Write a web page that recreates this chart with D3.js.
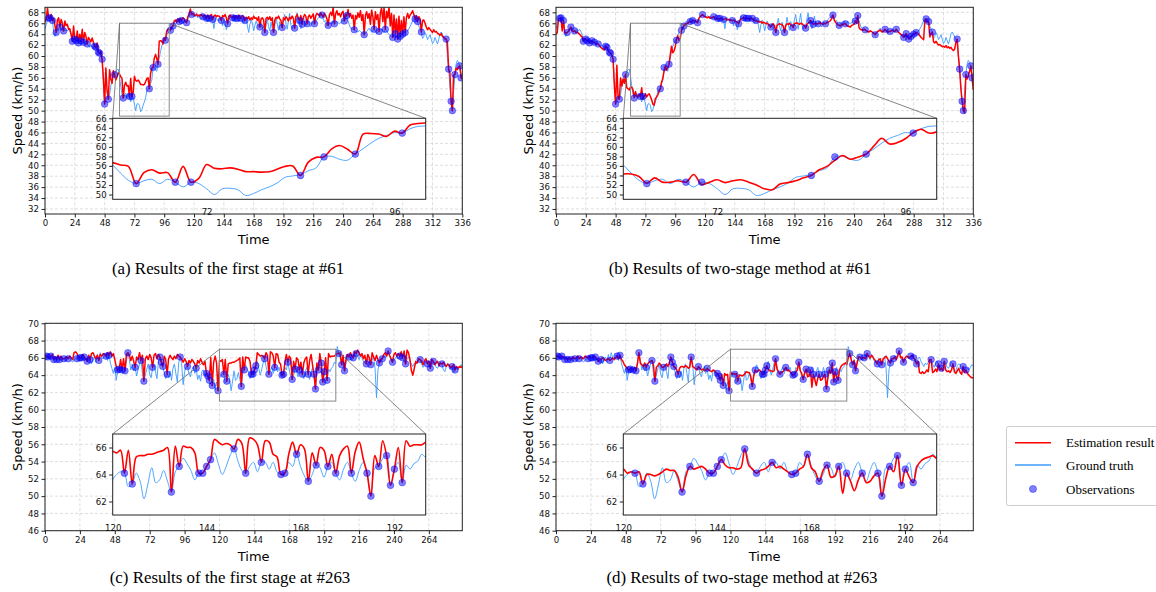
<!DOCTYPE html>
<html><head><meta charset="utf-8">
<script src="https://cdn.jsdelivr.net/npm/d3@7"></script>
<style>body{margin:0;background:#fff}</style>
</head><body>
<script>
// ---------- DATA (#61) ----------
const truth61 = [
65.0,65.8,66.6,66.9,67.0,66.7,66.5,64.5,63.6,64.3,
64.7,65.1,65.3,64.8,64.7,64.6,64.8,64.7,64.6,64.9,
64.5,64.0,62.7,63.2,63.1,62.8,63.0,62.4,62.6,62.8,
62.5,62.5,62.1,62.4,62.2,62.0,61.6,62.0,61.8,61.5,
61.8,61.6,60.9,60.7,60.5,60.0,59.4,55.0,51.2,52.0,
52.4,52.1,53.0,54.5,55.8,56.4,56.6,57.2,57.5,57.6,
56.2,54.5,53.0,52.3,52.9,53.2,52.3,53.2,52.6,51.6,
52.6,52.3,51.2,50.0,51.2,51.3,51.0,49.8,50.2,51.0,
51.6,52.4,53.6,53.9,54.2,55.0,55.6,57.9,58.0,57.4,
57.2,58.5,59.6,60.8,61.8,62.4,63.0,62.9,63.8,64.3,
64.4,64.7,65.1,65.5,66.0,66.4,66.1,66.5,66.3,66.5,
66.4,66.0,66.5,66.2,66.1,66.8,67.2,67.5,67.6,67.4,
67.3,67.2,67.4,67.0,67.3,67.1,66.8,67.2,67.0,66.6,
66.9,66.3,66.9,67.1,66.5,66.7,65.0,66.8,67.0,66.5,
66.5,66.8,66.5,65.5,66.7,66.2,64.8,65.9,66.6,67.3,
66.9,67.0,66.4,66.9,67.1,66.9,66.3,67.2,66.9,66.6,
66.0,66.5,66.8,65.5,64.3,65.8,66.6,66.0,64.6,65.6,
66.4,65.8,65.3,65.3,66.0,64.9,65.5,64.3,65.8,66.9,
65.4,64.6,66.2,65.0,64.3,65.5,67.1,65.9,64.7,66.3,
65.5,65.2,66.6,67.6,65.9,64.9,66.4,67.8,65.7,64.9,
65.7,65.1,66.8,67.9,66.0,66.5,65.0,65.8,67.3,66.2,
65.6,65.9,66.4,65.8,65.3,66.2,66.0,65.9,66.3,66.7,
66.9,67.2,67.4,67.5,66.8,66.2,66.5,65.6,65.6,66.0,
66.2,65.8,66.4,65.9,66.1,66.3,66.1,65.9,66.2,66.4,
66.5,66.4,66.8,67.4,66.5,65.7,65.1,64.9,65.0,64.8,
64.6,64.5,64.4,64.7,64.5,64.3,64.1,63.9,64.2,64.5,
64.8,65.1,64.6,64.4,64.6,64.9,64.5,64.1,64.4,64.5,
64.7,65.0,64.5,64.3,64.9,64.6,64.2,64.0,63.7,63.5,
63.4,63.9,64.1,63.5,63.1,63.3,63.6,64.0,64.0,64.2,
64.3,64.4,64.6,65.0,65.4,65.9,66.5,66.9,66.8,66.5,
66.3,65.5,64.9,64.4,63.2,63.6,64.3,63.8,63.0,63.4,
63.9,63.1,62.3,62.6,63.4,62.8,62.2,63.0,64.1,64.4,
64.0,63.5,63.0,63.1,60.0,57.6,54.5,51.7,50.0,53.5,
56.6,58.5,59.2,58.8,58.2,56.0,57.0];

const estFirst61 = [
66.2,66.8,68.8,66.9,67.0,67.6,66.5,66.9,65.6,64.3,
66.6,67.0,65.3,66.7,66.0,64.6,66.4,65.6,65.8,64.9,
65.0,64.0,62.7,65.5,63.1,62.8,64.6,62.4,64.0,62.8,
64.9,62.5,64.3,63.6,62.2,63.4,63.0,62.6,63.3,62.5,
61.8,61.6,62.4,60.7,60.5,60.8,59.4,56.0,51.2,57.8,
53.6,52.1,57.5,55.8,55.0,57.3,56.6,55.6,56.2,56.9,
56.7,56.2,55.9,52.3,54.6,55.2,54.5,54.6,52.6,55.9,
52.6,53.4,56.3,55.5,55.4,55.6,55.3,54.8,54.8,54.7,
54.8,55.3,55.9,56.0,54.0,56.8,57.8,57.9,59.6,60.3,
59.5,58.5,62.7,62.8,62.7,62.2,63.3,62.9,64.6,64.9,
65.0,64.7,65.3,65.5,66.4,66.6,66.2,66.8,66.3,66.9,
66.5,67.0,66.8,66.4,66.1,67.2,67.6,68.6,67.6,67.8,
67.5,67.4,67.7,67.3,67.5,67.4,67.6,67.2,67.5,67.3,
66.9,67.5,66.9,67.4,67.6,66.7,67.3,67.5,67.2,67.4,
67.3,67.1,66.5,67.4,67.2,67.6,67.0,65.9,67.3,67.5,
67.2,67.0,67.4,66.9,67.3,66.9,67.5,67.1,66.9,67.4,
67.2,66.5,67.1,66.8,67.2,66.6,67.0,66.7,67.3,66.9,
67.0,66.5,67.2,65.3,66.8,67.0,66.6,64.3,66.9,67.1,
66.7,67.2,66.5,67.0,64.3,66.6,67.1,66.9,67.3,66.8,
66.5,65.2,67.0,66.6,67.2,66.9,66.4,67.1,66.8,67.3,
66.9,65.1,67.2,67.6,66.9,66.5,67.4,65.8,67.0,67.6,
67.3,65.9,67.2,67.5,66.9,67.3,67.7,65.9,67.4,67.8,
67.6,67.3,67.9,67.5,67.2,67.8,67.4,66.8,65.6,67.5,
68.0,67.4,68.9,65.9,67.7,68.3,67.5,67.8,67.2,67.9,
68.2,66.4,67.6,67.4,68.5,67.2,67.8,66.9,67.5,64.8,
67.4,66.8,67.9,67.1,68.3,66.5,67.6,63.9,67.4,68.1,
66.9,67.8,65.8,68.4,67.2,64.9,68.1,66.7,67.6,64.5,
67.9,68.8,66.3,68.9,64.9,68.2,67.0,68.9,65.5,67.8,
63.4,67.5,64.1,66.8,63.1,67.3,63.6,66.5,64.0,67.2,
64.3,67.0,67.8,66.9,67.5,67.8,68.3,67.6,66.8,67.4,
66.3,67.2,66.8,64.4,66.5,66.6,66.0,65.3,64.8,65.2,
64.9,64.6,64.3,64.8,64.4,64.5,64.2,64.0,63.8,64.1,
63.6,63.4,63.2,63.1,62.5,57.6,57.0,51.7,50.0,56.5,
56.6,57.8,57.5,58.0,58.2,56.0,55.8];

const estTwo61 = [
64.0,64.3,66.8,66.9,67.0,64.6,66.5,64.3,64.2,64.3,
64.5,64.9,65.3,64.6,64.5,64.6,64.3,64.4,64.2,64.0,
63.7,63.5,62.7,63.2,63.1,62.8,62.9,62.4,62.7,62.8,
62.6,62.5,62.3,62.2,62.2,61.9,61.6,61.4,61.2,61.1,
61.8,61.6,61.0,60.7,60.5,60.2,59.4,54.5,51.2,58.3,
52.2,52.1,56.0,54.5,55.8,55.0,56.6,54.2,54.0,53.8,
54.3,54.3,53.8,52.4,53.5,52.6,52.6,52.9,52.6,54.2,
52.1,52.6,53.1,52.5,52.9,53.1,52.6,52.0,51.2,51.0,
52.2,52.5,52.9,53.5,54.0,55.2,55.9,57.2,58.2,57.4,
57.9,58.5,60.2,61.8,60.6,60.9,61.7,63.0,63.7,62.9,
63.2,64.7,65.2,65.5,65.8,66.0,65.9,66.2,66.3,66.2,
66.5,66.6,66.4,66.3,66.1,66.9,67.2,67.4,67.6,67.3,
67.2,67.1,67.0,67.2,66.9,67.0,67.1,67.2,66.9,66.8,
66.9,66.8,66.9,66.9,66.7,66.7,66.8,66.9,66.6,66.7,
66.6,66.5,66.5,66.6,66.4,66.3,66.2,65.9,66.5,66.8,
66.9,67.0,66.9,66.9,66.8,66.9,66.7,66.9,66.9,66.6,
66.5,66.5,66.3,66.4,66.2,66.3,66.0,66.2,66.1,65.9,
66.0,65.8,65.6,65.3,65.7,65.9,65.5,64.3,65.6,65.8,
65.9,65.8,65.7,65.5,64.3,65.6,65.9,65.8,66.0,65.7,
65.6,65.2,65.9,66.0,66.1,65.9,65.8,66.0,65.9,65.7,
65.6,65.1,65.8,66.0,66.2,66.5,66.2,65.8,65.9,66.0,
65.9,65.9,66.0,66.1,65.9,65.8,66.0,65.9,66.1,66.2,
66.3,66.5,66.9,67.5,66.6,66.2,65.9,65.7,65.6,65.5,
65.8,65.7,65.9,65.9,65.6,65.5,65.4,65.3,65.6,65.7,
65.8,66.4,66.0,67.4,65.2,64.9,64.8,64.7,64.9,64.8,
64.6,64.5,64.4,64.6,64.5,64.3,64.2,63.9,64.3,64.5,
64.6,64.8,64.5,64.4,64.6,64.9,64.6,64.4,64.5,64.5,
64.6,64.7,64.5,64.6,64.9,64.5,64.3,64.1,63.9,63.8,
63.4,63.7,64.1,63.6,63.1,63.4,63.6,63.8,64.0,64.1,
64.3,64.2,64.0,63.7,63.4,63.2,63.0,66.5,66.8,66.2,
66.3,63.5,64.1,64.4,62.6,62.4,62.7,62.3,62.0,62.1,
61.9,61.7,61.8,61.6,61.9,61.5,61.7,61.4,61.6,61.2,
61.0,61.3,62.5,63.1,60.0,57.6,54.0,51.7,50.0,49.6,
56.6,55.8,56.4,57.2,58.2,56.0,53.8];

const obs61 = [
[3,66.9],[4,67.0],[6,66.5],[9,64.3],[12,65.3],[15,64.6],
[22,62.7],[24,63.1],[25,62.8],[27,62.4],[29,62.8],[31,62.5],[34,62.2],
[40,61.8],[41,61.6],[43,60.7],[44,60.5],[46,59.4],
[48,51.2],[51,52.1],[56,56.6],
[63,52.3],[68,52.6],[70,52.6],[84,54.0],[87,57.9],[91,58.5],[97,62.9],
[101,64.7],[103,65.5],[108,66.3],[110,66.5],[114,66.1],[118,67.6],
[127,67.2],[130,66.9],[132,66.9],[135,66.7],[142,66.5],[147,65.9],[151,67.0],[153,66.9],[155,66.9],[158,66.9],[161,66.5],
[173,65.3],[177,64.3],[184,64.3],[191,65.2],[201,65.1],[205,66.5],[207,65.8],[211,65.9],[217,65.9],[223,67.5],[228,65.6],[233,65.9],[241,66.4],[243,67.4],
[249,64.8],[257,63.9],[265,64.9],[269,64.5],[274,64.9],[280,63.4],[282,64.1],[284,63.1],[286,63.6],[288,64.0],[290,64.3],
[298,66.8],[300,66.3],[303,64.4],
[323,63.1],[325,57.6],[327,51.7],[328,50.0],[330,56.6],[334,58.2],[335,56.0]];

// ---------- DATA (#263) ----------
const truth263 = [
66.2,66.2,66.1,65.9,66.2,66.0,65.8,65.9,65.8,66.0,
65.8,65.7,66.0,65.9,65.6,65.9,65.9,66.0,65.7,65.5,
65.8,65.9,65.9,66.1,66.0,66.0,65.7,66.1,65.8,65.6,
65.7,65.8,65.3,65.9,66.1,65.5,66.4,65.7,66.6,66.0,
65.9,66.3,66.2,65.7,66.3,65.4,64.8,64.2,64.9,63.4,
64.6,64.7,64.9,64.6,64.3,64.5,65.6,66.6,65.8,64.6,
65.3,64.5,64.9,63.9,64.6,65.3,65.7,64.2,63.3,64.0,
64.7,65.3,64.1,63.7,64.9,65.2,64.4,63.6,65.6,66.1,
65.5,65.0,64.3,63.6,64.1,63.7,64.5,63.4,64.8,65.3,
64.2,63.2,65.5,66.1,65.3,62.9,64.4,64.9,65.0,64.2,
63.8,64.6,65.0,64.2,64.8,63.5,64.0,63.3,64.5,64.6,
63.9,64.2,63.9,63.4,62.9,62.8,63.5,62.3,63.2,62.2,
63.6,64.0,64.2,64.1,63.1,63.3,64.1,63.5,62.2,63.3,
64.5,63.4,63.6,64.3,63.5,62.7,64.2,64.6,65.2,64.8,
64.3,63.6,64.1,64.1,64.6,65.1,65.6,64.8,64.0,64.6,
65.4,65.9,65.0,64.3,64.1,64.6,64.9,64.2,64.9,64.9,
64.4,64.9,64.2,64.0,64.1,64.9,64.6,65.5,64.6,63.9,
63.5,64.0,64.7,64.5,63.8,64.6,64.9,64.1,63.6,64.4,
64.9,64.1,63.5,64.3,64.9,64.1,62.4,64.5,64.6,65.2,
65.4,63.2,64.4,64.9,63.4,64.7,64.4,64.8,65.0,65.5,
65.3,67.3,66.5,66.0,65.2,65.8,64.5,65.5,66.2,66.1,
66.0,65.7,66.0,66.4,66.5,66.2,65.8,66.4,66.0,65.6,
65.4,65.3,65.9,65.6,65.2,65.7,66.2,64.8,61.4,64.6,
65.4,66.0,65.9,66.3,66.0,66.5,66.8,66.2,65.8,65.5,
65.7,66.0,66.2,65.9,66.2,66.4,66.0,65.6,65.3,65.9,
66.1,65.6,65.3,65.0,65.4,65.2,65.5,65.8,65.8,65.3,
64.9,65.3,65.6,65.3,65.0,64.8,65.2,65.6,65.4,64.9,
64.8,65.2,65.5,65.3,64.6,64.4,65.1,65.3,65.2,64.7,
65.0,64.3,64.6,64.8,64.6,64.9,65.2,65.1];

const estFirst263 = [
66.3,66.1,66.2,66.0,66.2,66.4,65.8,66.1,65.8,66.3,
65.8,66.2,65.9,65.9,66.0,66.1,65.9,66.2,66.0,65.8,
66.6,66.7,66.5,66.1,66.0,66.0,66.4,66.1,65.9,65.6,
66.3,65.8,66.5,66.6,66.2,65.9,66.3,65.7,66.4,66.2,
66.5,66.4,66.2,66.6,66.3,66.7,66.2,66.5,65.8,65.0,
64.6,64.7,65.8,64.6,65.9,64.5,66.4,66.6,66.3,65.7,
66.2,65.6,64.9,66.1,65.8,66.6,65.7,66.3,63.3,65.9,
66.2,65.8,66.4,66.0,64.9,66.3,66.5,65.9,66.4,66.1,
65.5,65.0,66.2,65.8,64.1,65.9,66.3,66.0,65.8,66.2,
65.9,66.4,66.2,66.1,65.8,65.5,65.9,65.6,65.0,65.7,
65.4,65.8,65.6,65.3,64.8,65.7,65.4,65.9,65.5,65.2,
65.6,64.2,63.9,63.4,66.0,62.8,65.5,66.2,65.4,62.2,
65.7,65.6,65.8,64.1,65.8,63.3,65.3,65.4,65.4,65.5,
65.5,65.6,65.7,65.8,66.0,62.7,66.1,64.6,66.1,66.0,
66.0,65.6,64.1,64.1,64.6,65.1,66.6,66.4,66.2,66.3,
66.2,65.9,66.6,66.3,64.1,66.7,66.6,66.2,64.9,66.5,
66.4,65.5,65.3,64.0,64.1,65.5,66.4,65.5,66.2,65.9,
63.5,65.6,64.7,66.0,65.8,64.6,65.5,64.1,65.4,65.9,
66.1,64.1,65.7,66.4,65.2,64.1,62.4,65.4,64.6,66.5,
65.4,63.2,64.4,66.0,63.4,66.5,66.1,66.2,66.2,66.2,
66.4,66.5,66.5,66.6,65.2,66.3,64.5,65.8,66.4,66.1,
66.6,66.3,66.0,66.7,66.5,66.9,66.6,66.2,66.5,65.9,
66.3,65.3,66.4,66.0,65.2,66.6,66.1,65.7,66.3,65.8,
65.4,65.8,65.9,66.4,66.6,66.2,66.8,66.3,65.9,65.5,
66.4,66.6,66.2,66.5,66.2,66.7,66.0,66.8,65.3,66.9,
66.6,65.8,64.5,64.0,64.8,65.6,65.4,65.9,65.8,65.6,
65.2,65.7,65.9,65.3,65.6,64.8,65.8,65.6,65.2,65.4,
65.6,65.1,65.4,65.3,65.5,65.2,65.0,65.3,65.1,64.9,
65.0,65.2,64.6,65.0,64.8,65.0,64.9,65.0];

const estTwo263 = [
66.1,66.2,66.1,66.0,66.2,66.1,65.9,66.0,65.8,66.0,
65.8,66.0,66.1,65.9,66.0,66.2,65.9,66.1,66.0,65.9,
66.2,66.1,66.0,66.2,66.0,66.0,66.2,66.1,65.9,65.6,
65.8,65.8,66.0,65.9,65.7,65.8,65.9,65.7,65.8,66.0,
65.8,66.0,66.2,65.9,66.3,65.8,65.6,65.2,65.0,64.8,
64.6,64.7,64.8,64.6,64.9,64.5,65.3,66.6,65.4,65.2,
65.0,65.4,64.9,65.3,65.5,65.6,65.7,65.2,63.3,64.9,
65.1,65.4,65.2,64.9,64.9,65.1,65.3,65.0,65.4,66.1,
65.5,65.0,64.9,64.6,64.1,64.8,65.0,65.0,64.9,65.1,
65.0,64.8,64.9,66.1,65.0,64.9,64.7,64.6,65.0,64.8,
64.6,64.7,64.5,64.6,64.8,64.6,64.5,64.4,64.6,64.5,
64.3,64.2,63.9,63.4,64.1,62.8,64.2,64.0,64.1,62.2,
64.4,64.1,64.2,64.1,64.2,63.3,64.0,64.0,63.9,64.0,
64.2,64.4,64.3,64.3,63.8,62.7,63.9,64.6,64.4,64.5,
64.6,64.4,64.1,64.1,64.6,65.1,64.7,64.5,64.5,64.4,
64.5,65.9,64.7,64.4,64.1,64.3,64.4,64.6,64.9,64.5,
64.6,64.4,64.2,64.0,64.1,64.4,64.6,65.5,64.5,64.2,
63.5,64.3,64.7,63.8,63.9,64.6,62.6,64.1,63.5,62.8,
63.6,64.1,63.4,63.5,63.9,64.1,62.4,63.7,64.6,64.2,
65.4,63.2,64.4,63.8,63.4,64.6,65.0,65.2,65.3,65.4,
65.2,66.0,66.5,65.8,65.2,65.7,64.5,65.3,66.1,66.1,
65.9,66.0,66.0,65.9,66.5,66.2,66.0,66.3,66.1,65.8,
65.6,65.3,65.8,65.9,65.2,65.9,66.0,66.2,65.9,65.6,
65.4,65.9,65.9,66.1,65.8,66.2,66.8,66.0,66.1,65.5,
66.0,66.2,66.1,66.0,66.2,66.3,66.0,65.8,65.3,65.6,
64.3,64.2,64.4,64.2,64.3,64.6,64.4,65.8,65.8,64.3,
64.4,64.7,64.4,65.3,64.6,64.8,64.5,65.6,64.6,64.4,
64.5,64.3,64.6,65.3,64.4,64.2,64.5,64.8,64.3,64.1,
65.0,64.3,64.6,64.2,64.0,63.8,63.7,63.7];

const obs263 = [
[1,66.2],[2,66.1],[4,66.2],[6,65.8],[8,65.8],[10,65.8],[13,65.9],[16,65.9],
[22,65.9],[24,66.0],[25,66.0],[27,66.1],[29,65.6],[31,65.8],[37,65.7],
[42,66.2],[44,66.3],[50,64.6],[51,64.7],[53,64.6],[55,64.5],
[57,66.6],[62,64.9],[66,65.7],[68,63.3],[74,64.9],[79,66.1],[80,65.5],[81,65.0],[84,64.1],[93,66.1],[98,65.0],[104,64.8],[111,64.2],[112,63.9],[113,63.4],[115,62.8],[119,62.2],
[123,64.1],[125,63.3],[135,62.7],[137,64.6],[142,64.1],[143,64.1],[144,64.6],[145,65.1],[151,65.9],[154,64.1],[158,64.9],[163,64.0],[164,64.1],[167,65.5],[170,63.5],[172,64.7],[175,64.6],[177,64.1],[181,64.1],[185,64.1],[186,62.4],[188,64.6],[190,65.4],[191,63.2],[192,64.4],[194,63.4],
[202,66.5],[204,65.2],[206,64.5],[209,66.1],[212,66.0],[214,66.5],[221,65.3],[224,65.2],[230,65.4],[232,65.9],[236,66.8],[239,65.5],[244,66.2],[246,66.0],[248,65.3],[258,65.8],[263,65.3],[265,64.8],[267,65.6],[273,65.3],[280,65.0],[282,64.6]];

// ---------- ticks / labels ----------
const ticksX61 = [0,24,48,72,96,120,144,168,192,216,240,264,288,312,336];
const ticksY61 = [32,34,36,38,40,42,44,46,48,50,52,54,56,58,60,62,64,66,68];
const insetTicksX61 = [72,96];
const insetTicksY61 = [50,52,54,56,58,60,62,64,66];
const ticksX263 = [0,24,48,72,96,120,144,168,192,216,240,264];
const ticksY263 = [46,48,50,52,54,56,58,60,62,64,66,68,70];
const insetTicksX263 = [120,144,168,192];
const insetTicksY263 = [62,64,66];
const captions = ["(a) Results of the first stage at #61","(b) Results of two-stage method at #61",
                  "(c) Results of the first stage at #263","(d) Results of two-stage method at #263"];
const legendLabels = ["Estimation result","Ground truth","Observations"];

// ---------- drawing ----------
const W=1156,H=592;
const RED="#ff0000", BLUE="#3d9bff", OBS="#0000ff";
const svg=d3.select("body").append("svg").attr("width",W).attr("height",H)
  .style("font-family","'DejaVu Sans', sans-serif");
svg.append("rect").attr("width",W).attr("height",H).attr("fill","#fff");
const defs=svg.append("defs");

const panels=[
 {id:"a",box:[45,7.3,462.3,214],xDom:[0,336],yDom:[31.08,68.92],xT:ticksX61,yT:ticksY61,gt:truth61,est:estFirst61,obs:obs61,
  ins:{box:[112.7,118.3,425.7,199.3],xDom:[60,100],yDom:[49,66],xT:insetTicksX61,yT:insetTicksY61},cap:captions[0],capX:228,capY:274},
 {id:"b",box:[556,7.3,973.3,214],xDom:[0,336],yDom:[31.08,68.92],xT:ticksX61,yT:ticksY61,gt:truth61,est:estTwo61,obs:obs61,
  ins:{box:[623.3,118.3,936.7,199.3],xDom:[60,100],yDom:[49,66],xT:insetTicksX61,yT:insetTicksY61},cap:captions[1],capX:740,capY:274},
 {id:"c",box:[45,323.3,462.3,530.7],xDom:[0,287],yDom:[46,70],xT:ticksX263,yT:ticksY263,gt:truth263,est:estFirst263,obs:obs263,
  ins:{box:[112.7,434,425.7,515],xDom:[120,200],yDom:[61,67],xT:insetTicksX263,yT:insetTicksY263},cap:captions[2],capX:230,capY:583},
 {id:"d",box:[556,323.3,973.3,530.7],xDom:[0,287],yDom:[46,70],xT:ticksX263,yT:ticksY263,gt:truth263,est:estTwo263,obs:obs263,
  ins:{box:[623.3,434,936.7,515],xDom:[120,200],yDom:[61,67],xT:insetTicksX263,yT:insetTicksY263},cap:captions[3],capX:742,capY:583}
];

function drawSeries(g,x,y,p,curve,lwR,lwB,r,clipId,xDom){
  const gg=g.append("g").attr("clip-path",`url(#${clipId})`);
  const lineI=d3.line().x(i=>x(i)).curve(curve);
  const idx = d3.range(p.gt.length).filter(i=>i>=xDom[0]-1 && i<=xDom[1]+1);
  gg.append("path").attr("d",lineI.y(i=>y(p.gt[i]))(idx)).attr("fill","none").attr("stroke",BLUE).attr("stroke-width",lwB);
  const idx2 = d3.range(p.est.length).filter(i=>i>=xDom[0]-1 && i<=xDom[1]+1);
  gg.append("path").attr("d",lineI.y(i=>y(p.est[i]))(idx2)).attr("fill","none").attr("stroke",RED).attr("stroke-width",lwR).attr("stroke-linejoin","round");
  gg.selectAll("circle.o").data(p.obs.filter(o=>o[0]>=xDom[0]-2&&o[0]<=xDom[1]+2)).join("circle")
    .attr("cx",d=>x(d[0])).attr("cy",d=>y(d[1])).attr("r",r)
    .attr("fill",OBS).attr("fill-opacity",0.5).attr("stroke",OBS).attr("stroke-opacity",0.45).attr("stroke-width",0.8);
}

panels.forEach(p=>{
  const [x0,y0,x1,y1]=p.box;
  const x=d3.scaleLinear().domain(p.xDom).range([x0,x1]);
  const y=d3.scaleLinear().domain(p.yDom).range([y1,y0]);
  const g=svg.append("g");
  g.selectAll("line.gx").data(p.xT).join("line").attr("x1",d=>x(d)).attr("x2",d=>x(d)).attr("y1",y0).attr("y2",y1)
    .attr("stroke","#cfcfcf").attr("stroke-width",0.7).attr("stroke-dasharray","3,2");
  g.selectAll("line.gy").data(p.yT).join("line").attr("y1",d=>y(d)).attr("y2",d=>y(d)).attr("x1",x0).attr("x2",x1)
    .attr("stroke","#cfcfcf").attr("stroke-width",0.7).attr("stroke-dasharray","3,2");
  const cid="clip"+p.id;
  defs.append("clipPath").attr("id",cid).append("rect").attr("x",x0).attr("y",y0).attr("width",x1-x0).attr("height",y1-y0);
  drawSeries(g,x,y,p,d3.curveLinear,1.5,0.9,3.3,cid,p.xDom);
  g.append("rect").attr("x",x0).attr("y",y0).attr("width",x1-x0).attr("height",y1-y0).attr("fill","none").attr("stroke","#222").attr("stroke-width",1);
  const ax=d3.axisBottom(x).tickValues(p.xT).tickSize(3.5).tickPadding(2.5).tickFormat(d3.format("d"));
  const ay=d3.axisLeft(y).tickValues(p.yT).tickSize(3.5).tickPadding(2.5).tickFormat(d3.format("d"));
  const gx=g.append("g").attr("transform",`translate(0,${y1})`).call(ax);
  const gy=g.append("g").attr("transform",`translate(${x0},0)`).call(ay);
  [gx,gy].forEach(a=>{a.select(".domain").remove();a.selectAll("text").attr("font-size",8.6).attr("font-family","'DejaVu Sans'").attr("fill","#111");a.selectAll("line").attr("stroke","#222");});
  g.append("text").attr("x",(x0+x1)/2).attr("y",y1+30).attr("text-anchor","middle").attr("font-size",13).text("Time");
  g.append("text").attr("transform",`translate(${x0-23.5},${(y0+y1)/2}) rotate(-90)`).attr("text-anchor","middle").attr("font-size",13).text("Speed (km/h)");

  const I=p.ins; const [ix0,iy0,ix1,iy1]=I.box;
  const xi=d3.scaleLinear().domain(I.xDom).range([ix0,ix1]);
  const yi=d3.scaleLinear().domain(I.yDom).range([iy1,iy0]);
  const bx0=x(I.xDom[0]),bx1=x(I.xDom[1]),by0=y(I.yDom[1]),by1=y(I.yDom[0]);
  g.append("rect").attr("x",bx0).attr("y",by0).attr("width",bx1-bx0).attr("height",by1-by0).attr("fill","none").attr("stroke","#8a8a8a").attr("stroke-width",1);
  g.append("line").attr("x1",bx0).attr("y1",by0).attr("x2",ix0).attr("y2",iy0).attr("stroke","#666").attr("stroke-width",0.8);
  g.append("line").attr("x1",bx1).attr("y1",by0).attr("x2",ix1).attr("y2",iy0).attr("stroke","#666").attr("stroke-width",0.8);
  const ig=svg.append("g");
  ig.append("rect").attr("x",ix0).attr("y",iy0).attr("width",ix1-ix0).attr("height",iy1-iy0).attr("fill","#fff");
  const icid="iclip"+p.id;
  defs.append("clipPath").attr("id",icid).append("rect").attr("x",ix0).attr("y",iy0).attr("width",ix1-ix0).attr("height",iy1-iy0);
  drawSeries(ig,xi,yi,p,d3.curveCatmullRom.alpha(0.5),1.6,0.9,3.4,icid,I.xDom);
  ig.append("rect").attr("x",ix0).attr("y",iy0).attr("width",ix1-ix0).attr("height",iy1-iy0).attr("fill","none").attr("stroke","#222").attr("stroke-width",1);
  const iax=d3.axisBottom(xi).tickValues(I.xT).tickSize(0).tickPadding(10).tickFormat(d3.format("d"));
  const iay=d3.axisLeft(yi).tickValues(I.yT).tickSize(3.5).tickPadding(2.5).tickFormat(d3.format("d"));
  const igx=ig.append("g").attr("transform",`translate(0,${iy1})`).call(iax);
  const igy=ig.append("g").attr("transform",`translate(${ix0},0)`).call(iay);
  [igx,igy].forEach(a=>{a.select(".domain").remove();a.selectAll("text").attr("font-size",8.6).attr("font-family","'DejaVu Sans'").attr("fill","#111");a.selectAll("line").attr("stroke","#222");});

  svg.append("text").attr("x",p.capX).attr("y",p.capY).attr("text-anchor","middle")
    .attr("font-family","'Liberation Serif','Times New Roman',serif").attr("font-size",16.9).text(p.cap);
});

const lg=svg.append("g").attr("font-family","'Liberation Serif','Times New Roman',serif").attr("font-size",13);
lg.append("rect").attr("x",1006.5).attr("y",426.5).attr("width",162).attr("height",79).attr("rx",2).attr("fill","#fff").attr("stroke","#cccccc");
const ly=[442.7,465,489];
lg.append("line").attr("x1",1015).attr("x2",1051).attr("y1",ly[0]).attr("y2",ly[0]).attr("stroke",RED).attr("stroke-width",1.5);
lg.append("line").attr("x1",1015).attr("x2",1051).attr("y1",ly[1]).attr("y2",ly[1]).attr("stroke",BLUE).attr("stroke-width",1.5);
lg.append("circle").attr("cx",1033).attr("cy",ly[2]).attr("r",3.6).attr("fill",OBS).attr("fill-opacity",0.5).attr("stroke",OBS).attr("stroke-opacity",0.45).attr("stroke-width",0.8);
legendLabels.forEach((t,i)=>lg.append("text").attr("x",1066).attr("y",ly[i]+4.5).text(t));
</script>
</body></html>
